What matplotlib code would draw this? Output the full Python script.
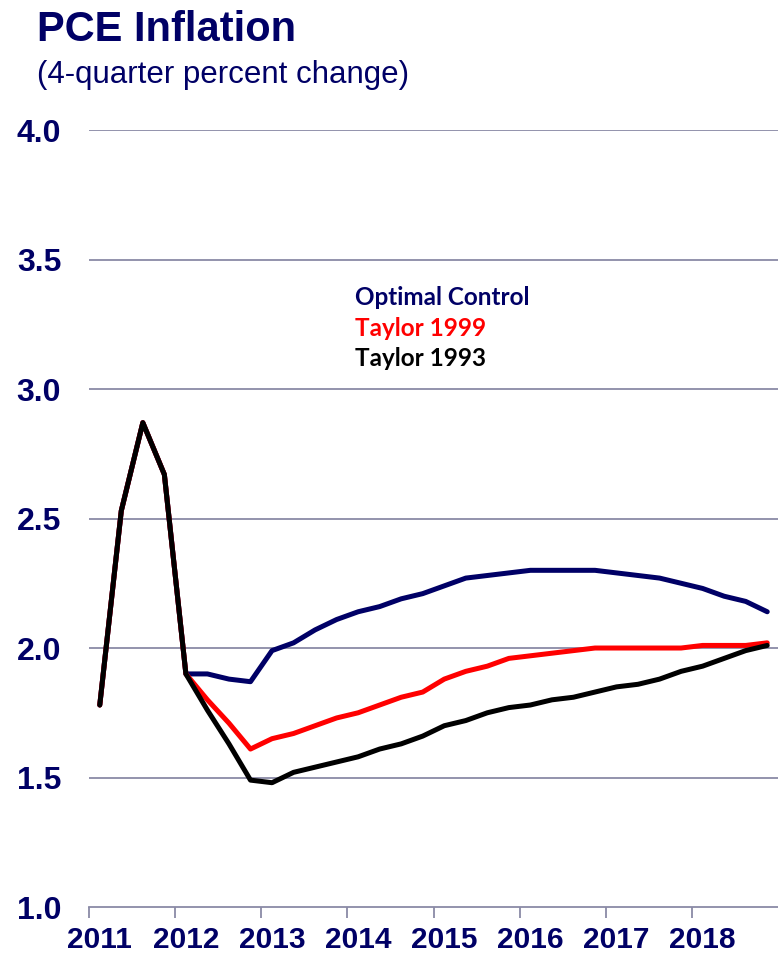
import numpy as np
import matplotlib
matplotlib.use('Agg')
import matplotlib.pyplot as plt

# quarterly, 2011Q1 .. 2018Q4
years = list(range(2011, 2019))
optimal = [1.78, 2.53, 2.87, 2.67, 1.90, 1.90, 1.88, 1.87, 1.99, 2.02, 2.07, 2.11,
           2.14, 2.16, 2.19, 2.21, 2.24, 2.27, 2.28, 2.29, 2.30, 2.30, 2.30, 2.30,
           2.29, 2.28, 2.27, 2.25, 2.23, 2.20, 2.18, 2.14]
taylor99 = [1.78, 2.53, 2.87, 2.67, 1.90, 1.80, 1.71, 1.61, 1.65, 1.67, 1.70, 1.73,
            1.75, 1.78, 1.81, 1.83, 1.88, 1.91, 1.93, 1.96, 1.97, 1.98, 1.99, 2.00,
            2.00, 2.00, 2.00, 2.00, 2.01, 2.01, 2.01, 2.02]
taylor93 = [1.78, 2.53, 2.87, 2.67, 1.90, 1.76, 1.63, 1.49, 1.48, 1.52, 1.54, 1.56,
            1.58, 1.61, 1.63, 1.66, 1.70, 1.72, 1.75, 1.77, 1.78, 1.80, 1.81, 1.83,
            1.85, 1.86, 1.88, 1.91, 1.93, 1.96, 1.99, 2.01]
yticks = [1.0, 1.5, 2.0, 2.5, 3.0, 3.5, 4.0]

NAVY = '#000066'
GRID = '#8a8aa6'

# x position of each quarter: middle of the quarter
x = 2011 + (np.arange(len(optimal)) + 0.5) / 4.0

fig = plt.figure(figsize=(7.78, 9.58), dpi=100)
ax = fig.add_axes([0.1144, 0.0532, 0.8856, 0.8111])

ax.plot(x, optimal, color=NAVY, lw=3.6, solid_capstyle='round', zorder=3)
ax.plot(x, taylor99, color='#ff0000', lw=3.6, solid_capstyle='round', zorder=4)
ax.plot(x, taylor93, color='black', lw=3.6, solid_capstyle='round', zorder=5)

ax.set_ylim(1.0, 4.0)
ax.set_xlim(2011, 2019)
ax.set_yticks(yticks)
ax.set_yticklabels(['%.1f' % v for v in yticks])
for v in yticks[1:]:
    ax.axhline(v, color=GRID, lw=1.3, zorder=1)

for s in ['left', 'right', 'top']:
    ax.spines[s].set_visible(False)
ax.spines['bottom'].set_color(GRID)
ax.spines['bottom'].set_linewidth(1.3)

ax.set_xticks(years)
ax.set_xticklabels([])
ax.set_xticks([y + 0.125 for y in years], minor=True)
ax.set_xticklabels([str(y) for y in years], minor=True)
ax.tick_params(axis='x', which='major', length=8, width=1.3, color=GRID)
ax.tick_params(axis='x', which='minor', length=0, pad=14,
               labelsize=21.5, labelcolor=NAVY)
ax.tick_params(axis='y', length=0, pad=20, labelsize=23, labelcolor=NAVY)
for lab in ax.get_xticklabels(minor=True) + ax.get_yticklabels():
    lab.set_fontweight('bold')
    lab.set_family('Liberation Sans')

fig.text(0.047, 0.99, 'PCE Inflation', family='Liberation Sans', weight='bold',
         fontsize=30, color=NAVY, va='top')
fig.text(0.047, 0.937, '(4-quarter percent change)', family='Liberation Sans',
         fontsize=22.5, color=NAVY, va='top')

leg_font = dict(family='Lato', weight='bold', fontsize=17.5, va='baseline')
fig.text(0.456, 1 - 305 / 958., 'Optimal Control', color=NAVY, **leg_font)
fig.text(0.456, 1 - 336 / 958., 'Taylor 1999', color='#ff0000', **leg_font)
fig.text(0.456, 1 - 366 / 958., 'Taylor 1993', color='black', **leg_font)

fig.savefig('out.png', dpi=100)
